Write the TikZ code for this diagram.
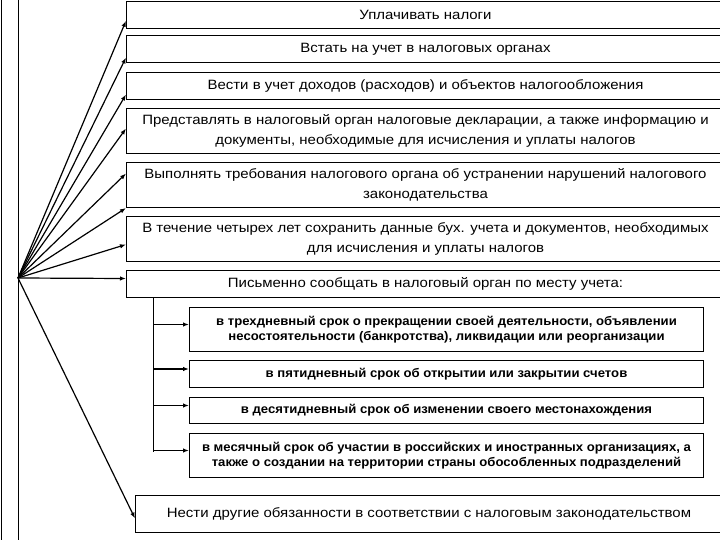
\documentclass[tikz,border=0pt]{standalone}
\usepackage{fontspec}
\setmainfont{Liberation Sans}
\newfontfamily\dutyfont[FakeStretch=1.11]{Liberation Sans}
\newfontfamily\subfont[FakeStretch=1.05]{Liberation Sans}
\usetikzlibrary{arrows.meta}

\begin{document}
\begin{tikzpicture}[
    x=1pt, y=-1pt,
    duty/.style={draw, line width=1pt, anchor=north west, minimum width=598pt,
        align=center, inner sep=2pt, font=\dutyfont\fontsize{13.5}{19.5}\selectfont},
    term/.style={draw, line width=1pt, anchor=north west, minimum width=514pt,
        align=center, inner sep=2pt, font=\subfont\bfseries\fontsize{12.5}{15.5}\selectfont},
    >={Latex[length=6pt,width=4.5pt]}
]
\useasboundingbox (0,0) rectangle (720,540);
\clip (0,0) rectangle (720,540);

% Left bar
\node[draw, line width=1pt, anchor=north west, minimum width=17.5pt,
    minimum height=546pt, inner sep=0pt] (base) at (0.5,-3) {};
\coordinate (fan) at (18,278);

% Duties
\node[duty, minimum height=27pt] (b1) at (126,0.8) {Уплачивать налоги};
\node[duty, minimum height=27pt] (b2) at (126,35) {Встать на учет в налоговых органах};
\node[duty, minimum height=27pt] (b3) at (126,72)
    {Вести в учет доходов (расходов) и объектов налогообложения};
\node[duty, minimum height=45pt] (b4) at (126,108)
    {Представлять в налоговый орган налоговые декларации, а также информацию и\\
     документы, необходимые для исчисления и уплаты налогов};
\node[duty, minimum height=45pt] (b5) at (126,162)
    {Выполнять требования налогового органа об устранении нарушений налогового\\
     законодательства};
\node[duty, minimum height=45pt] (b6) at (126,216)
    {В течение четырех лет сохранить данные бух. учета и документов, необходимых\\
     для исчисления и уплаты налогов};
\node[duty, minimum height=27pt] (b7) at (126,270)
    {Письменно сообщать в налоговый орган по месту учета:};
\node[duty, minimum height=37pt, minimum width=587pt] (b8) at (135,495)
    {Нести другие обязанности в соответствии с налоговым законодательством};

% Terms
\node[term, minimum height=44pt] (s1) at (189,307)
    {в трехдневный срок о прекращении своей деятельности, объявлении\\
     несостоятельности (банкротства), ликвидации или реорганизации};
\node[term, minimum height=27pt] (s2) at (189,360)
    {в пятидневный срок об открытии или закрытии счетов};
\node[term, minimum height=26pt] (s3) at (189,397)
    {в десятидневный срок об изменении своего местонахождения};
\node[term, minimum height=44pt] (s4) at (189,433)
    {в месячный срок об участии в российских и иностранных организациях, а\\
     также о создании на территории страны обособленных подразделений};

% Connections
\foreach \b/\s in {b1/-6,b2/-8.5,b3/-8.5,b4/2.5,b5/11.5,b6/-5.5,b7/5.5,b8/-4.5} {
    \draw[->, line width=1.2pt] (fan) -- ([yshift=\s pt]\b.west);
}
\draw[->, line width=1.2pt] (fan) -- (b5.south west);

\coordinate (trunk) at (153,297);
\draw[line width=1pt] (trunk) -- ([yshift=4pt]s4.west -| trunk);
\foreach \i in {1,2,3,4} {
    \draw[->, line width=1.2pt] ([yshift=5pt]s\i.west -| trunk) -- ([yshift=5pt]s\i.west);
}
\end{tikzpicture}
\end{document}
